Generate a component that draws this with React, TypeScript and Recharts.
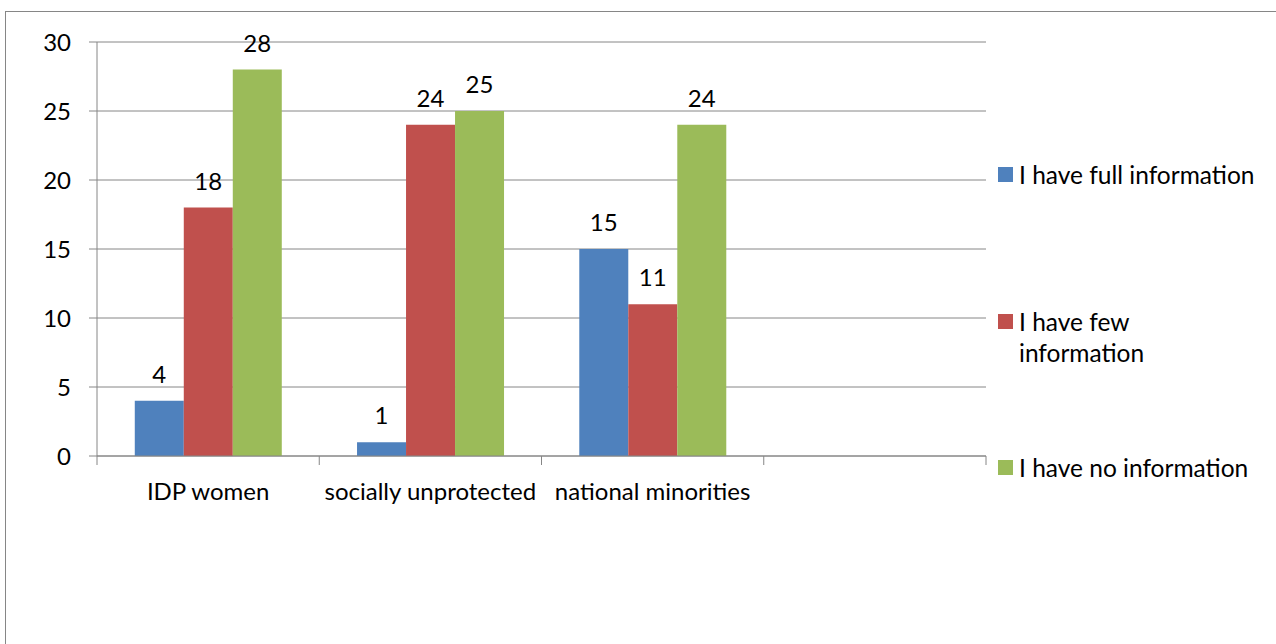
import { BarChart, Bar, XAxis, YAxis, CartesianGrid, LabelList } from "recharts";

const categories = ["IDP women", "socially unprotected", "national minorities", ""];
const fullInfo = [4, 1, 15, null];
const fewInfo = [18, 24, 11, null];
const noInfo = [28, 25, 24, null];
const yTicks = [0, 5, 10, 15, 20, 25, 30];

const seriesNames = ["I have full information", "I have few\ninformation", "I have no information"];
const seriesColors = ["#4F81BD", "#C0504D", "#9BBB59"];
const seriesKeys = ["full", "few", "none"];

const data = categories.map((name, i) => ({
  name,
  full: fullInfo[i],
  few: fewInfo[i],
  none: noInfo[i],
}));

const FONT = "Lato, 'Open Sans', sans-serif";
const FONT_SIZE = 24;
const GRID = "#868686";
const X_TICK_MARGIN = 27;

function CategoryTick(props: any) {
  const { x, y, payload, index, visibleTicksCount, width } = props;
  const half = payload.offset ?? width / (visibleTicksCount || 4) / 2;
  const axisY = y - X_TICK_MARGIN;
  const last = index === visibleTicksCount - 1;
  return (
    <g>
      <line x1={x - half} x2={x - half} y1={axisY} y2={axisY + 9} stroke={GRID} />
      {last && <line x1={x + half} x2={x + half} y1={axisY} y2={axisY + 9} stroke={GRID} />}
      <text x={x} y={y} dy="0.71em" textAnchor="middle" fill="#000" fontSize={FONT_SIZE} fontFamily={FONT}>
        {payload.value}
      </text>
    </g>
  );
}

// legend row spacing
const legendGaps = [0, 116, 84];

export default function App() {
  return (
    <div
      style={{
        position: "absolute",
        left: 0,
        top: 0,
        width: 1276,
        height: 644,
        overflow: "hidden",
        background: "#fff",
        fontFamily: FONT,
      }}
    >
      <div
        style={{
          position: "absolute",
          left: 5,
          top: 11,
          width: 1400,
          height: 800,
          border: `1px solid ${GRID}`,
        }}
      />
      <div style={{ position: "absolute", left: 0, top: 0 }}>
        <BarChart
          width={1276}
          height={644}
          data={data}
          margin={{ top: 42, right: 290, bottom: 148, left: 37 }}
          barCategoryGap="17%"
          barGap={0}
        >
          <CartesianGrid vertical={false} stroke={GRID} />
          <XAxis
            dataKey="name"
            height={40}
            interval={0}
            tickLine={false}
            tickSize={0}
            tickMargin={X_TICK_MARGIN}
            stroke={GRID}
            tick={<CategoryTick />}
          />
          <YAxis
            width={60}
            domain={[0, 30]}
            ticks={yTicks}
            interval={0}
            tickSize={8}
            tickMargin={18}
            stroke={GRID}
            tick={{ fill: "#000", fontSize: FONT_SIZE, fontFamily: FONT }}
          />
          {seriesKeys.map((k, i) => (
            <Bar key={k} dataKey={k} name={seriesNames[i]} fill={seriesColors[i]} isAnimationActive={false}>
              <LabelList dataKey={k} position="top" offset={18} fill="#000" fontSize={FONT_SIZE} fontFamily={FONT} />
            </Bar>
          ))}
        </BarChart>
      </div>
      <div style={{ position: "absolute", left: 998, top: 159, fontSize: 24.5, lineHeight: "31px", color: "#000" }}>
        {seriesNames.map((n, i) => (
          <div key={n} style={{ display: "flex", alignItems: "flex-start", marginTop: legendGaps[i] }}>
            <div
              style={{
                width: 15,
                height: 15,
                background: seriesColors[i],
                marginTop: 8,
                marginRight: 6,
                flexShrink: 0,
              }}
            />
            <div style={{ whiteSpace: "pre-line" }}>{n}</div>
          </div>
        ))}
      </div>
    </div>
  );
}
